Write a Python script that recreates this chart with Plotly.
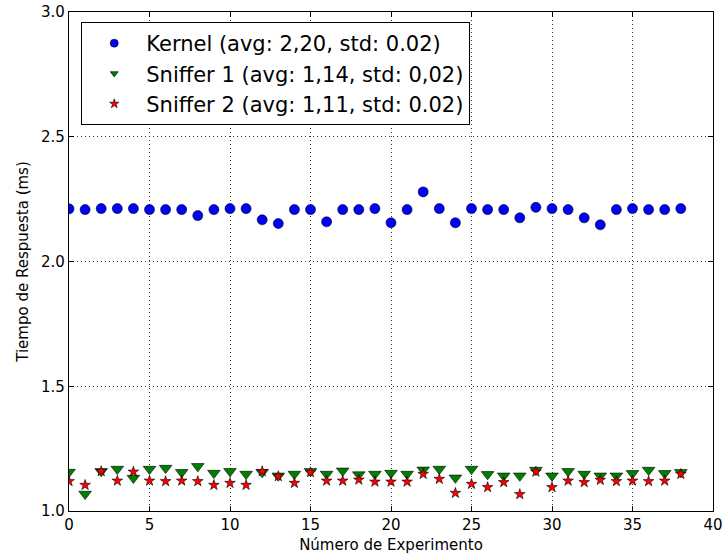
import plotly.graph_objects as go

experimentos = list(range(39))

kernel = [2.211, 2.208, 2.212, 2.212, 2.212, 2.208, 2.208, 2.208, 2.184, 2.208,
          2.212, 2.212, 2.167, 2.152, 2.208, 2.208, 2.159, 2.208, 2.208, 2.212,
          2.155, 2.208, 2.279, 2.212, 2.155, 2.212, 2.208, 2.208, 2.175, 2.217,
          2.212, 2.208, 2.175, 2.147, 2.208, 2.212, 2.208, 2.208, 2.212]

sniffer1 = [1.156, 1.068, 1.159, 1.168, 1.132, 1.168, 1.172, 1.155, 1.179, 1.152,
            1.159, 1.148, 1.155, 1.141, 1.148, 1.159, 1.148, 1.161, 1.146, 1.148,
            1.152, 1.148, 1.165, 1.168, 1.133, 1.168, 1.147, 1.141, 1.141, 1.164,
            1.141, 1.159, 1.148, 1.141, 1.141, 1.151, 1.164, 1.151, 1.155]

sniffer2 = [1.119, 1.104, 1.159, 1.121, 1.157, 1.121, 1.119, 1.121, 1.119, 1.104,
            1.112, 1.104, 1.159, 1.139, 1.112, 1.155, 1.121, 1.121, 1.125, 1.117,
            1.117, 1.117, 1.148, 1.128, 1.072, 1.108, 1.095, 1.115, 1.067, 1.157,
            1.095, 1.121, 1.115, 1.124, 1.119, 1.121, 1.119, 1.121, 1.148]

nombres = ["Kernel (avg: 2,20, std: 0.02)",
           "Sniffer 1 (avg: 1,14, std: 0,02)",
           "Sniffer 2 (avg: 1,11, std: 0.02)"]

fuente = "DejaVu Sans"
borde = dict(color="black", width=0.6)

series = [
    (kernel, "circle", "#0000ff", 10, 8),
    (sniffer1, "triangle-down", "#008000", 11, 7),
    (sniffer2, "star", "#ff0000", 8, 7),
]

fig = go.Figure()
for i, (valores, simbolo, color, tam, tam_leyenda) in enumerate(series):
    # puntos de la serie
    fig.add_trace(go.Scatter(x=experimentos, y=valores, mode="markers", name=nombres[i],
                             legendgroup=f"g{i}", showlegend=False,
                             marker=dict(symbol=simbolo, size=tam, color=color, line=borde)))
    # entrada de leyenda con marcador más pequeño
    fig.add_trace(go.Scatter(x=[None], y=[None], mode="markers", name=nombres[i],
                             legendgroup=f"g{i}", showlegend=True,
                             marker=dict(symbol=simbolo, size=tam_leyenda, color=color, line=borde)))

eje = dict(showline=True, linecolor="black", linewidth=1.2, mirror="allticks",
           ticks="inside", ticklen=5, tickcolor="black", tickwidth=1,
           showgrid=True, gridcolor="#333333", griddash="1px,3px", gridwidth=1,
           zeroline=False, automargin=False,
           tickfont=dict(family=fuente, size=15, color="black"))

fig.update_xaxes(range=[0, 40], tickmode="array", tickvals=list(range(0, 41, 5)),
                 title=dict(text="Número de Experimento", font=dict(family=fuente, size=15, color="black"),
                            standoff=6), **eje)
fig.update_yaxes(range=[1.0, 3.0], tickmode="array", tickvals=[1.0, 1.5, 2.0, 2.5, 3.0],
                 ticktext=["1.0", "1.5", "2.0", "2.5", "3.0"],
                 title=dict(text="Tiempo de Respuesta (ms)", font=dict(family=fuente, size=15, color="black"),
                            standoff=8), **eje)

fig.update_layout(
    width=725, height=558,
    margin=dict(l=69, r=12, t=12, b=47),
    paper_bgcolor="white", plot_bgcolor="white",
    font=dict(family=fuente, color="black"),
    showlegend=True,
    legend=dict(x=0.019, y=0.98, xanchor="left", yanchor="top",
                bgcolor="white", bordercolor="black", borderwidth=1,
                font=dict(family=fuente, size=21, color="black"),
                tracegroupgap=0, itemwidth=54),
)

fig.write_html("out.html")
